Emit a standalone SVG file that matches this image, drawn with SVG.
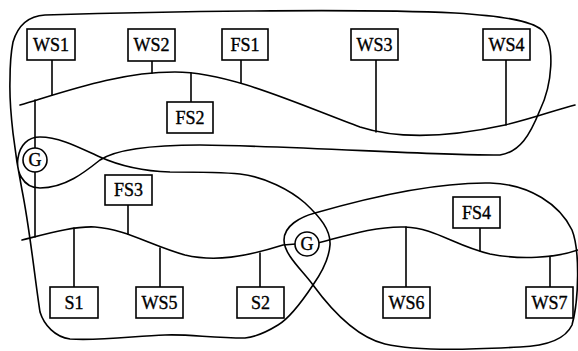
<svg xmlns="http://www.w3.org/2000/svg" width="578" height="351" viewBox="0 0 578 351">
  <style>
    .line { fill: none; stroke: #000; stroke-width: 1.6; stroke-linejoin: round; stroke-linecap: round; }
    .box { fill: #fff; stroke: #000; stroke-width: 1.6; }
    .lbl { font-family: "Liberation Serif", "DejaVu Serif", "Times New Roman", serif; font-size: 18px; text-anchor: middle; fill: #000; stroke: #000; stroke-width: 0.35; }
    .gw { fill: #fff; stroke: #000; stroke-width: 1.6; }
  </style>
  <rect width="578" height="351" fill="#fff"/>

  <g id="connectors">
    <!-- domain outline: upper region, loop round the left gateway, lower-left region -->
    <path class="line" d="M13,42 C18,25 28,16 45,15 C150,12 350,8 455,13 C500,16 530,20 542,30 C556,45 552,85 540,110 C530,135 520,152 500,155 C440,156 300,146 200,145 C150,145 115,150 100,160 C85,172 65,188 40,188 C22,188 16,170 18,158 C20,145 28,137 40,137 C60,137 80,148 100,157 C120,166 140,171 170,172 C190,172 220,172 240,174 C265,177 290,190 305,203 C320,217 331,230 330,245 C329,260 320,275 313,285 C303,300 290,318 278,325 C265,333 255,337 245,338 C210,338 190,334 165,335 C135,336 100,341 70,339 C55,337 44,325 40,312 C35,280 30,230 22,190 C15,155 9,110 10,80 C10,62 11,52 13,42 Z"/>
    <!-- domain outline: lower-right region looping round the right gateway -->
    <path class="line" d="M315,213 C360,200 430,182 490,183 C530,184 560,205 572,230 C580,250 579,300 572,325 C565,340 545,346 520,347 C480,349 420,352 385,344 C360,338 335,315 313,285 C303,271 284,255 284,240 C284,226 300,217 315,213 Z"/>

    <!-- backbone 1 -->
    <path class="line" d="M20,105 C70,90 120,72 175,72 C230,72 300,105 360,127 C400,140 450,137 505,125 C535,118 555,110 575,105"/>
    <!-- backbone 2 -->
    <path class="line" d="M22,240 C50,233 75,226 95,227 C125,229 150,245 185,255 C215,262 245,257 283,245 L296,244"/>
    <path class="line" d="M318,243 C345,236 375,226 405,227 C435,228 455,246 490,254 C520,260 555,258 578,250"/>

    <!-- gateway G (left) drop lines -->
    <line class="line" x1="35" y1="100" x2="35" y2="148"/>
    <line class="line" x1="35" y1="172" x2="35" y2="237"/>

    <!-- station drops on backbone 1 -->
    <line class="line" x1="52" y1="60" x2="52" y2="95"/>
    <line class="line" x1="152" y1="61" x2="152" y2="73"/>
    <line class="line" x1="241" y1="60" x2="241" y2="83"/>
    <line class="line" x1="191" y1="73" x2="191" y2="102"/>
    <line class="line" x1="376" y1="60" x2="376" y2="132"/>
    <line class="line" x1="506" y1="60" x2="506" y2="125"/>

    <!-- station drops on backbone 2 -->
    <line class="line" x1="128" y1="205" x2="128" y2="234"/>
    <line class="line" x1="74" y1="228" x2="74" y2="287"/>
    <line class="line" x1="160" y1="248" x2="160" y2="287"/>
    <line class="line" x1="260" y1="253" x2="260" y2="287"/>
    <line class="line" x1="406" y1="227" x2="406" y2="287"/>
    <line class="line" x1="480" y1="228" x2="480" y2="251"/>
    <line class="line" x1="550" y1="257" x2="550" y2="287"/>
  </g>

  <g id="WS1"><rect class="box" x="27" y="29" width="48" height="31"/><text class="lbl" x="51" y="51">WS1</text></g>
  <g id="WS2"><rect class="box" x="128" y="29" width="47" height="32"/><text class="lbl" x="151.5" y="51">WS2</text></g>
  <g id="FS1"><rect class="box" x="222" y="29" width="46" height="31"/><text class="lbl" x="245" y="51">FS1</text></g>
  <g id="WS3"><rect class="box" x="351" y="29" width="47" height="31"/><text class="lbl" x="374.5" y="51">WS3</text></g>
  <g id="WS4"><rect class="box" x="483" y="29" width="47" height="31"/><text class="lbl" x="506.5" y="51">WS4</text></g>
  <g id="FS2"><rect class="box" x="167" y="102" width="46" height="31"/><text class="lbl" x="190" y="124">FS2</text></g>
  <g id="FS3"><rect class="box" x="105" y="175" width="47" height="30"/><text class="lbl" x="128.5" y="196">FS3</text></g>
  <g id="FS4"><rect class="box" x="453" y="197" width="47" height="31"/><text class="lbl" x="476.5" y="219">FS4</text></g>
  <g id="S1"><rect class="box" x="50" y="287" width="48" height="31"/><text class="lbl" x="74" y="309">S1</text></g>
  <g id="WS5"><rect class="box" x="136" y="287" width="47" height="31"/><text class="lbl" x="159.5" y="309">WS5</text></g>
  <g id="S2"><rect class="box" x="237" y="287" width="47" height="31"/><text class="lbl" x="260.5" y="309">S2</text></g>
  <g id="WS6"><rect class="box" x="383" y="287" width="47" height="31"/><text class="lbl" x="406.5" y="309">WS6</text></g>
  <g id="WS7"><rect class="box" x="526" y="287" width="47" height="31"/><text class="lbl" x="549.5" y="309">WS7</text></g>

  <g id="G1"><circle class="gw" cx="35" cy="160" r="12"/><text class="lbl" x="35" y="166">G</text></g>
  <g id="G2"><circle class="gw" cx="307" cy="244" r="12"/><text class="lbl" x="307" y="250">G</text></g>
</svg>
